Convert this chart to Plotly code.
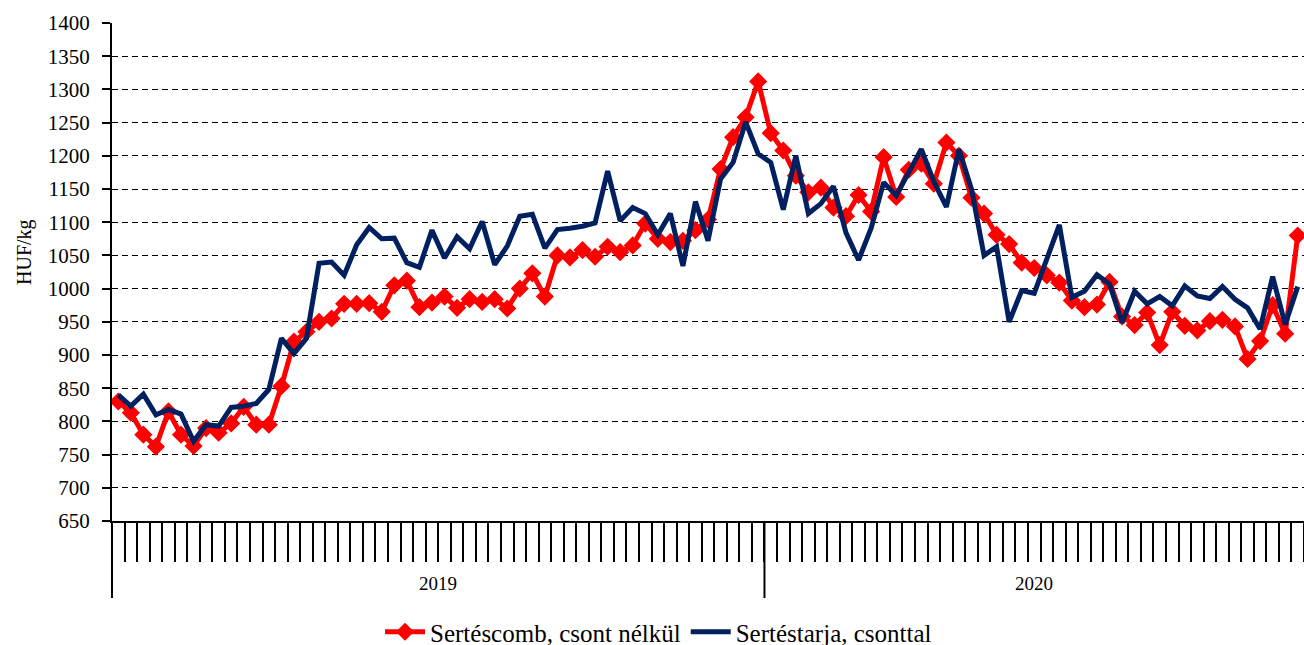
import plotly.graph_objects as go

# Weekly prices, 2019 week 1 .. 2020 week 43 (HUF/kg)
year_labels = ["2019", "2020"]
weeks_2019 = 52
weeks_2020 = 43

comb = [830, 813, 780, 762, 815, 780, 763, 790, 783, 797,
        822, 795, 795, 853, 920, 935, 950, 955, 977, 977,
        978, 965, 1005, 1012, 972, 979, 988, 971, 984, 980,
        984, 970, 1000, 1023, 988, 1050, 1047, 1058, 1048, 1063,
        1055, 1065, 1098, 1075, 1070, 1072, 1088, 1104, 1180, 1228,
        1258, 1312, 1234, 1208, 1170, 1145, 1152, 1122, 1109, 1141,
        1116, 1198, 1138, 1179, 1188, 1158, 1220, 1200, 1137, 1113,
        1081, 1067, 1039, 1031, 1020, 1009, 982, 972, 976, 1010,
        958, 945, 964, 915, 965, 944, 937, 951, 953, 943,
        894, 921, 975, 932, 1080]

tarja = [840, 823, 841, 810, 818, 811, 770, 795, 793, 821,
         823, 827, 848, 925, 902, 925, 1038, 1040, 1020, 1066,
         1092, 1075, 1076, 1039, 1032, 1088, 1046, 1078, 1060, 1101,
         1036, 1064, 1109, 1112, 1061, 1089, 1091, 1094, 1099, 1177,
         1102, 1122, 1113, 1081, 1113, 1034, 1131, 1072, 1165, 1190,
         1251, 1203, 1190, 1119, 1200, 1113, 1128, 1154, 1084, 1043,
         1091, 1160, 1140, 1175, 1210, 1161, 1123, 1210, 1150, 1050,
         1063, 950, 997, 993, 1046, 1096, 987, 996, 1021, 1007,
         949, 996, 977, 988, 974, 1004, 989, 985, 1003, 984,
         971, 939, 1018, 946, 1003]

names = ["Sertéscomb, csont nélkül", "Sertéstarja, csonttal"]

n = len(comb)
x = list(range(n))

FONT = "Liberation Serif"

fig = go.Figure()
fig.add_trace(go.Scatter(
    x=x, y=comb, name=names[0], mode="lines+markers",
    line=dict(color="#FF0000", width=5),
    marker=dict(symbol="diamond", size=14, color="#FF0000"),
))
fig.add_trace(go.Scatter(
    x=x, y=tarja, name=names[1], mode="lines",
    line=dict(color="#002060", width=5),
))

H_PLOT = 498.0
W_PLOT = 1192.0
def py(pix_below):
    return -pix_below / H_PLOT

shapes = []
shapes.append(dict(type="line", xref="paper", yref="paper", x0=0, x1=0,
                   y0=0, y1=py(77), line=dict(color="black", width=2)))
shapes.append(dict(type="line", xref="x", yref="paper", x0=weeks_2019 - 0.5, x1=weeks_2019 - 0.5,
                   y0=0, y1=py(77), line=dict(color="black", width=2)))
fig.update_layout(shapes=shapes)

annotations = [
    dict(x=(weeks_2019 - 1) / 2, y=py(62), xref="x", yref="paper", text=year_labels[0],
         showarrow=False, font=dict(family=FONT, size=19, color="black"), yanchor="middle"),
    dict(x=weeks_2019 - 0.5 + weeks_2020 / 2, y=py(62), xref="x", yref="paper", text=year_labels[1],
         showarrow=False, font=dict(family=FONT, size=19, color="black"), yanchor="middle"),
    dict(x=(25 - 112) / W_PLOT, y=(521 - 252) / H_PLOT, xref="paper", yref="paper", text="HUF/kg",
         textangle=-90, showarrow=False, font=dict(family=FONT, size=20, color="black"),
         xanchor="center", yanchor="middle"),
]

fig.update_layout(
    width=1304, height=645,
    margin=dict(l=112, r=0, t=23, b=124),
    paper_bgcolor="white", plot_bgcolor="white",
    font=dict(family=FONT, size=20, color="black"),
    showlegend=True,
    legend=dict(orientation="h", xref="container", yref="container",
                x=0.505, y=(645 - 632) / 645, xanchor="center", yanchor="middle",
                font=dict(family=FONT, size=25, color="black"),
                itemwidth=40, tracegroupgap=0),
    annotations=annotations,
    xaxis=dict(
        range=[-0.5, n - 0.5], showgrid=False, zeroline=False,
        tickmode="array", tickvals=[k + 0.5 for k in range(n)], ticktext=[""] * n,
        ticks="outside", ticklen=39, tickwidth=2, tickcolor="black",
        showline=True, linecolor="black", linewidth=2,
    ),
    yaxis=dict(
        range=[650, 1400], dtick=50, tick0=650,
        showgrid=True, gridcolor="black", gridwidth=1, griddash="6px,4px",
        zeroline=False, showline=True, linecolor="black", linewidth=2,
        ticks="outside", ticklen=8, tickwidth=2, tickcolor="black",
        tickfont=dict(family=FONT, size=21, color="black"),
        ticklabelstandoff=8,
    ),
)

fig.write_html("out.html", config={"displayModeBar": False},
               post_script="document.body.style.margin='0';")
